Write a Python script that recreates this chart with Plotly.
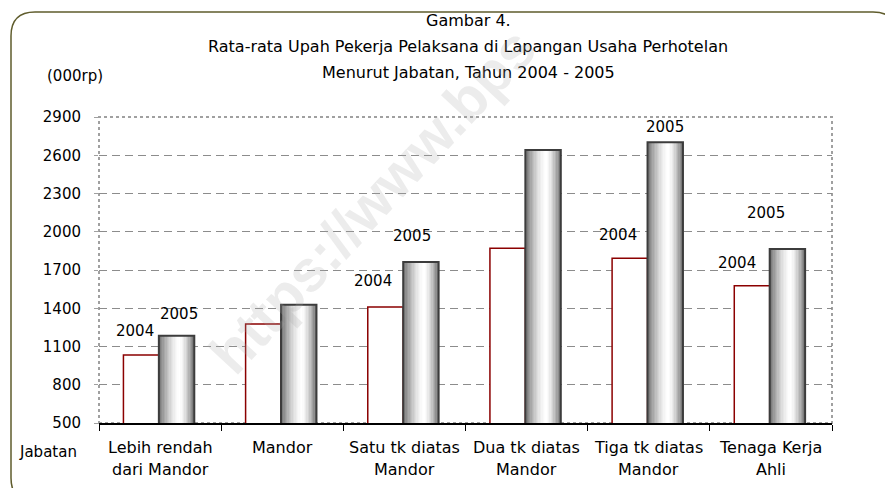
import plotly.graph_objects as go

# ---- data ----
categories = ["Lebih rendah<br>dari Mandor", "Mandor", "Satu tk diatas<br>Mandor",
              "Dua tk diatas<br>Mandor", "Tiga tk diatas<br>Mandor", "Tenaga Kerja<br>Ahli"]
wage_2004 = [1033, 1276, 1410, 1870, 1792, 1577]
wage_2005 = [1185, 1428, 1763, 2641, 2701, 1865]
y_ticks = [500, 800, 1100, 1400, 1700, 2000, 2300, 2600, 2900]
series_names = ["2004", "2005"]

# ---- layout constants (pixels) ----
W, H = 885, 488
L, R, T, B = 99, 53, 117, 65
PW, PH = W - L - R, H - T - B
FONT = "DejaVu Sans"

def px(x):
    return (x - L) / PW

def py(y):
    return (H - B - y) / PH

fig = go.Figure()

BW = 0.29
OFF04 = -0.30
OFF05 = -0.01

# 2004 bars: white with dark red outline
fig.add_trace(go.Bar(x=categories, y=wage_2004, name=series_names[0],
                     offset=OFF04, width=BW,
                     marker=dict(color="white", line=dict(color="#8b0000", width=1.5)),
                     hoverinfo="y"))

# 2005 bars: cylinder-like gray gradient made of thin strips
N = 26
for i in range(N):
    t = (i + 0.5) / N
    peak = 0.6
    if t < peak:
        d = (peak - t) / peak
        v = 255 - 150 * d ** 1.6
    else:
        d = (t - peak) / (1 - peak)
        v = 255 - 140 * d ** 1.5
    v = int(round(v))
    fig.add_trace(go.Bar(x=categories, y=wage_2005, offset=OFF05 + i * BW / N,
                         width=BW / N * 1.15, showlegend=False, hoverinfo="skip",
                         marker=dict(color=f"rgb({v},{v},{v})", line=dict(width=0))))
fig.add_trace(go.Bar(x=categories, y=wage_2005, name=series_names[1],
                     offset=OFF05, width=BW,
                     marker=dict(color="rgba(0,0,0,0)", line=dict(color="#3c3c3c", width=2)),
                     hoverinfo="y"))

# data labels (only some bars were labelled in the original); pixel shifts
label_spec = [  # (category index, series index, xshift, yshift above bar top)
    (0, 0, -25, 24), (0, 1, 19, 22),
    (2, 0, -31, 26), (2, 1, 8, 26),
    (4, 0, -31, 23), (4, 1, 16, 15),
    (5, 0, -34, 23), (5, 1, -5, 36),
]
annotations = []
for ci, si, xs, ys in label_spec:
    val = (wage_2004, wage_2005)[si][ci]
    annotations.append(dict(x=categories[ci], y=val, xref="x", yref="y",
                            text=series_names[si], showarrow=False,
                            xshift=xs, yshift=ys, xanchor="center", yanchor="middle",
                            font=dict(family=FONT, size=15, color="black")))

# category labels as two separately placed lines (wider line spacing than plotly's)
for cat in categories:
    parts = cat.split("<br>")
    for li, part in enumerate(parts):
        annotations.append(dict(x=cat, y=py(447 + 23 * li), xref="x", yref="paper",
                                text=part, showarrow=False, xanchor="center",
                                yanchor="middle",
                                font=dict(family=FONT, size=16, color="black")))

# titles
title_lines = ["Gambar 4.",
               "Rata-rata Upah Pekerja Pelaksana di Lapangan Usaha Perhotelan",
               "Menurut Jabatan, Tahun 2004 - 2005"]
for txt, yy in zip(title_lines, [20, 47, 72]):
    annotations.append(dict(x=px(468), y=py(yy), xref="paper", yref="paper", text=txt,
                            showarrow=False, xanchor="center", yanchor="middle",
                            font=dict(family=FONT, size=16, color="black")))
annotations.append(dict(x=px(75), y=py(76), xref="paper", yref="paper", text="(000rp)",
                        showarrow=False, xanchor="center", yanchor="middle",
                        font=dict(family=FONT, size=15, color="black")))
annotations.append(dict(x=px(48), y=py(452), xref="paper", yref="paper", text="Jabatan",
                        showarrow=False, xanchor="center", yanchor="middle",
                        font=dict(family=FONT, size=15, color="black")))
# watermark (visible part only)
annotations.append(dict(x=px(372), y=py(200), xref="paper", yref="paper",
                        text="https://www.bps", showarrow=False, textangle=-47,
                        xanchor="center", yanchor="middle",
                        font=dict(family="Liberation Sans", size=58, weight="bold",
                                  color="rgba(170,170,170,0.22)")))

# frame with rounded corners (pixel coords converted to paper)
fl, ft, fr, fb, rad = 11, 12, 897, 502, 24
def P(x, y):
    return f"{px(x):.5f},{py(y):.5f}"
frame_path = (f"M {P(fl, ft + rad)} Q {P(fl, ft)} {P(fl + rad, ft)} "
              f"L {P(fr - rad, ft)} Q {P(fr, ft)} {P(fr, ft + rad)} "
              f"L {P(fr, fb - rad)} Q {P(fr, fb)} {P(fr - rad, fb)} "
              f"L {P(fl + rad, fb)} Q {P(fl, fb)} {P(fl, fb - rad)} Z")

shapes = [
    dict(type="path", path=frame_path, xref="paper", yref="paper",
         line=dict(color="#5f5c2c", width=1.5), fillcolor="rgba(0,0,0,0)", layer="above"),
    dict(type="rect", xref="paper", yref="paper", x0=0, x1=1, y0=0, y1=1,
         line=dict(color="#a0a0a0", width=2, dash="3px,3px"), layer="below"),
]

fig.update_layout(
    width=W, height=H,
    margin=dict(l=L, r=R, t=T, b=B, pad=0),
    paper_bgcolor="white", plot_bgcolor="white",
    showlegend=False, barmode="overlay",
    annotations=annotations, shapes=shapes,
    font=dict(family=FONT, size=15, color="black"),
    xaxis=dict(type="category", showgrid=False, showline=True, linecolor="black",
               linewidth=1.5, ticks="outside", tickson="boundaries", ticklen=6,
               tickcolor="black", showticklabels=False,
               range=[-0.5, 5.5], fixedrange=True),
    yaxis=dict(range=[500, 2900], tickvals=y_ticks, showgrid=True, gridcolor="#8c8c8c",
               griddash="8px,5px", gridwidth=1, showline=False, zeroline=False,
               ticks="outside", ticklen=4, tickcolor="#a0a0a0",
               tickfont=dict(family=FONT, size=15, color="black"),
               ticklabelstandoff=10, fixedrange=True),
)

fig.write_html("out.html", config={"displayModeBar": False},
               post_script="document.body.style.margin='0px';")
